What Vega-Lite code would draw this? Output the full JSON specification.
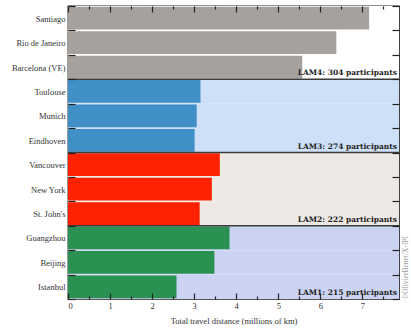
{
  "$schema": "https://vega.github.io/schema/vega-lite/v6.json",
  "width": 331,
  "height": 293,
  "autosize": "none",
  "padding": {"left": 68, "top": 6, "right": 11, "bottom": 30},
  "background": "white",
  "config": {
    "view": {"stroke": "#222222", "strokeWidth": 1.3},
    "font": "Liberation Serif",
    "axis": {"domain": false, "grid": false, "zindex": 2, "tickColor": "#222222", "tickWidth": 1.2, "labelFont": "Liberation Serif", "titleFont": "Liberation Serif", "labelColor": "#333333", "titleColor": "#333333", "labelFontSize": 8.5, "titleFontSize": 8.5, "titleFontWeight": "normal"}
  },
  "datasets": {
    "cities": [
      {"city": "Santiago", "group": "LAM4", "distance": 7.16},
      {"city": "Rio de Janeiro", "group": "LAM4", "distance": 6.38},
      {"city": "Barcelona (VE)", "group": "LAM4", "distance": 5.57},
      {"city": "Toulouse", "group": "LAM3", "distance": 3.15},
      {"city": "Munich", "group": "LAM3", "distance": 3.06},
      {"city": "Eindhoven", "group": "LAM3", "distance": 3.01},
      {"city": "Vancouver", "group": "LAM2", "distance": 3.61},
      {"city": "New York", "group": "LAM2", "distance": 3.42},
      {"city": "St. John's", "group": "LAM2", "distance": 3.13},
      {"city": "Guangzhou", "group": "LAM1", "distance": 3.84},
      {"city": "Beijing", "group": "LAM1", "distance": 3.48},
      {"city": "Istanbul", "group": "LAM1", "distance": 2.58}
    ],
    "groups": [
      {"group": "LAM4", "label": "LAM4: 304 participants", "first": "Santiago", "last": "Barcelona (VE)"},
      {"group": "LAM3", "label": "LAM3: 274 participants", "first": "Toulouse", "last": "Eindhoven"},
      {"group": "LAM2", "label": "LAM2: 222 participants", "first": "Vancouver", "last": "St. John's"},
      {"group": "LAM1", "label": "LAM1: 215 participants", "first": "Guangzhou", "last": "Istanbul"}
    ]
  },
  "resolve": {"scale": {"color": "independent"}, "axis": {"x": "independent", "y": "independent"}},
  "layer": [
    {
      "data": {"name": "cities"},
      "mark": {"type": "bar", "height": {"band": 1}},
      "encoding": {
        "y": {"field": "city", "type": "nominal", "sort": null,
          "scale": {"domain": ["Santiago", "Rio de Janeiro", "Barcelona (VE)", "Toulouse", "Munich", "Eindhoven", "Vancouver", "New York", "St. John's", "Guangzhou", "Beijing", "Istanbul"], "paddingInner": 0, "paddingOuter": 0},
          "axis": {"orient": "left", "title": null, "tickBand": "extent", "tickSize": -7, "labelPadding": 10, "zindex": 2}},
        "x": {"datum": 0, "type": "quantitative",
          "scale": {"domain": [0, 7.87], "nice": false, "zero": false},
          "axis": {"orient": "bottom", "title": "Total travel distance (millions of km)", "values": [0, 0.5, 1, 1.5, 2, 2.5, 3, 3.5, 4, 4.5, 5, 5.5, 6, 6.5, 7, 7.5],
            "tickSize": {"condition": {"test": "datum.value % 1 === 0", "value": -6}, "value": -3},
            "labelExpr": "datum.value % 1 === 0 ? format(datum.value, 'd') : ''", "labelColor": "#333333", "labelOverlap": false, "labelPadding": 8, "titlePadding": 4, "zindex": 2}},
        "x2": {"datum": 7.87},
        "color": {"field": "group", "type": "nominal", "legend": null,
          "scale": {"domain": ["LAM4", "LAM3", "LAM2", "LAM1"], "range": ["#ffffff", "#cde0f7", "#ede8e4", "#cbd3f2"]}}
      }
    },
    {
      "data": {"name": "cities"},
      "mark": {"type": "bar", "height": {"band": 0.93}},
      "encoding": {
        "y": {"field": "city", "type": "nominal", "sort": null,
          "axis": {"orient": "right", "title": "©OlivierBenet/X-IPI", "labels": false, "tickBand": "extent", "tickSize": -7, "zindex": 2, "titleAngle": 270, "titleAnchor": "end", "titleAlign": "left", "titleBaseline": "top", "titleFontSize": 7.5, "titleColor": "#999999", "titlePadding": 2, "titleFont": "Liberation Serif"}},
        "x": {"field": "distance", "type": "quantitative",
          "axis": {"orient": "top", "title": null, "labels": false, "zindex": 2, "values": [0, 0.5, 1, 1.5, 2, 2.5, 3, 3.5, 4, 4.5, 5, 5.5, 6, 6.5, 7, 7.5],
            "tickSize": {"condition": {"test": "datum.value % 1 === 0", "value": -6}, "value": -3}}},
        "color": {"field": "group", "type": "nominal", "legend": null,
          "scale": {"domain": ["LAM4", "LAM3", "LAM2", "LAM1"], "range": ["#a7a19e", "#418fc7", "#ff2200", "#2a9152"]}}
      }
    },
    {
      "data": {"name": "groups"},
      "transform": [{"filter": "datum.group !== 'LAM4'"}],
      "mark": {"type": "rule", "color": "#3d3d3d", "strokeWidth": 1.6},
      "encoding": {
        "y": {"field": "first", "type": "nominal", "bandPosition": 0, "axis": null}
      }
    },
    {
      "data": {"name": "groups"},
      "mark": {"type": "text", "align": "right", "baseline": "bottom", "dy": -2, "dx": -2, "font": "DejaVu Serif", "fontWeight": "bold", "fontSize": 7.5, "color": "#222222"},
      "encoding": {
        "y": {"field": "last", "type": "nominal", "bandPosition": 1, "axis": null},
        "x": {"datum": 7.87, "type": "quantitative", "axis": null},
        "text": {"field": "label"}
      }
    }
  ]
}
